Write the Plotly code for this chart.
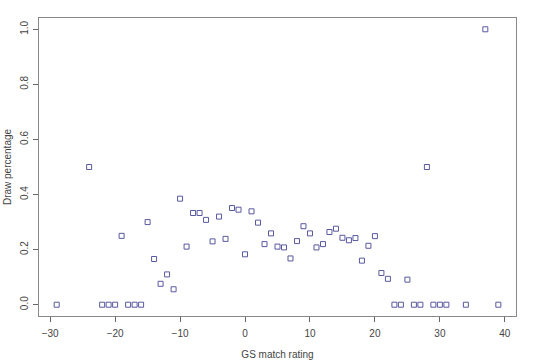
import plotly.graph_objects as go

gs_rating = [-29, -24, -22, -21, -20, -19, -18, -17, -16, -15, -14, -13, -12, -11,
             -10, -9, -8, -7, -6, -5, -4, -3, -2, -1, 0, 1, 2, 3, 4, 5, 6, 7, 8, 9,
             10, 11, 12, 13, 14, 15, 16, 17, 18, 19, 20, 21, 22, 23, 24, 25, 26, 27,
             28, 29, 30, 31, 34, 37, 39]
draw_pct = [0.0, 0.5, 0.0, 0.0, 0.0, 0.25, 0.0, 0.0, 0.0, 0.30, 0.166, 0.076, 0.110, 0.056,
            0.385, 0.211, 0.333, 0.333, 0.308, 0.230, 0.320, 0.239, 0.351, 0.345, 0.183,
            0.339, 0.298, 0.220, 0.259, 0.211, 0.208, 0.168, 0.231, 0.285, 0.259, 0.208,
            0.220, 0.264, 0.276, 0.243, 0.234, 0.242, 0.160, 0.214, 0.249, 0.115, 0.094,
            0.0, 0.0, 0.091, 0.0, 0.0, 0.5, 0.0, 0.0, 0.0, 0.0, 1.0, 0.0]

x_ticks = [-30, -20, -10, 0, 10, 20, 30, 40]
y_ticks = [0.0, 0.2, 0.4, 0.6, 0.8, 1.0]
y_tick_text = ["0.0", "0.2", "0.4", "0.6", "0.8", "1.0"]

fig = go.Figure()
fig.add_trace(go.Scatter(
    x=gs_rating, y=draw_pct, mode="markers",
    marker=dict(symbol="square-open", size=5, color="#5858a0", line=dict(width=1)),
    showlegend=False,
))

font = dict(family="Liberation Sans, Arial, sans-serif", size=10, color="#444444")
fig.update_layout(
    width=533, height=360,
    margin=dict(l=39, r=17, t=18, b=44),
    paper_bgcolor="white", plot_bgcolor="white",
    font=font,
)
fig.update_xaxes(
    range=[-31.72, 41.72], tickvals=x_ticks, ticks="outside", ticklen=5,
    tickcolor="#666666", showline=True, mirror=True, linecolor="#888888", linewidth=1,
    showgrid=False, zeroline=False, automargin=False, ticklabelstandoff=3,
    title=dict(text="GS match rating", standoff=12, font=font),
)
fig.update_yaxes(
    range=[-0.041, 1.041], tickvals=y_ticks, ticktext=y_tick_text, tickangle=-90,
    ticks="outside", ticklen=5, tickcolor="#666666",
    showline=True, mirror=True, linecolor="#888888", linewidth=1,
    showgrid=False, zeroline=False, automargin=False, ticklabelstandoff=1,
    title=dict(text="Draw percentage", standoff=5, font=font),
)
fig.write_html("out.html")
